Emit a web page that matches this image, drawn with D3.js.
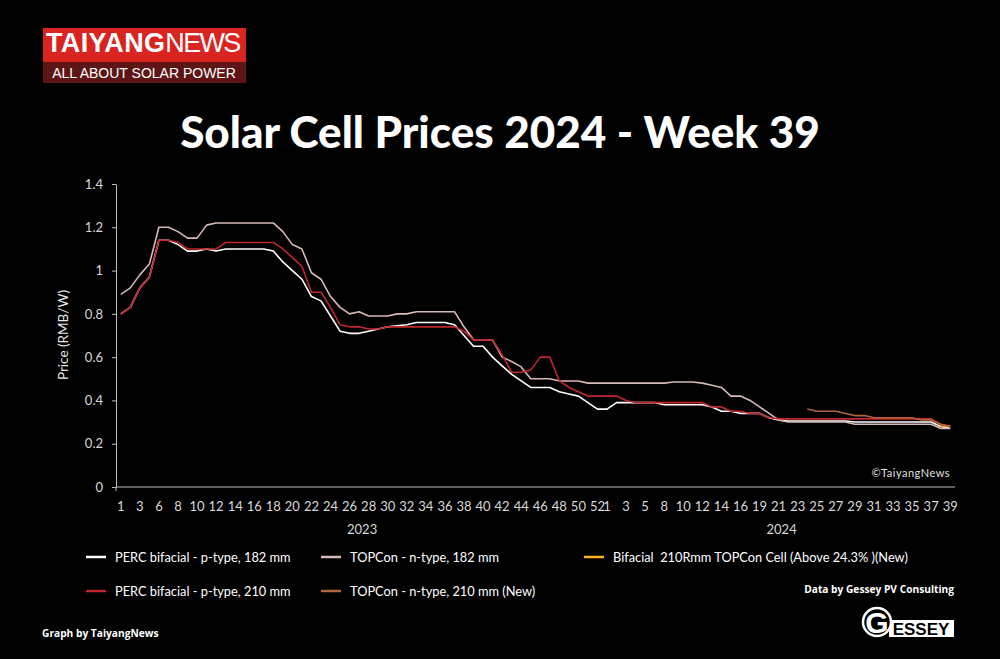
<!DOCTYPE html>
<html><head><meta charset="utf-8">
<script src="https://cdn.jsdelivr.net/npm/d3@7"></script>
<style>html,body{margin:0;padding:0;background:#000;} svg{display:block;}</style>
</head><body>
<svg id="c" width="1000" height="659"></svg>
<script>
// ---------- DATA ----------
const weeks2023 = [1,2,3,5,6,7,8,9,10,11,12,13,14,15,16,17,18,19,20,21,22,23,24,25,26,27,28,29,30,31,32,33,34,35,36,37,38,39,40,41,42,43,44,45,46,47,48,49,50,51,52];
const weeks2024 = [1,2,3,4,5,6,8,9,10,11,12,13,14,15,16,17,19,20,21,22,23,24,25,26,27,28,29,30,31,32,33,34,35,36,37,38,39];
const years = ["2023", "2024"];
const yTicks = [0, 0.2, 0.4, 0.6, 0.8, 1, 1.2, 1.4];

const perc182 = [
  0.80,0.83,0.92,0.97,1.14,1.14,1.12,1.09,1.09,1.10,
  1.09,1.10,1.10,1.10,1.10,1.10,1.09,1.04,1.00,0.96,
  0.88,0.86,0.79,0.72,0.71,0.71,0.72,0.73,0.74,0.745,
  0.75,0.76,0.76,0.76,0.76,0.75,0.70,0.65,0.65,0.60,
  0.56,0.52,0.49,0.46,0.46,0.46,0.44,0.43,0.42,0.39,
  0.36,0.36,0.39,0.39,0.39,0.39,0.39,0.38,0.38,0.38,
  0.38,0.38,0.37,0.35,0.35,0.34,0.34,0.34,0.32,0.31,
  0.305,0.305,0.305,0.305,0.305,0.305,0.305,0.30,0.30,0.30,
  0.30,0.30,0.30,0.30,0.30,0.30,0.28,0.27];
const topcon182 = [
  0.89,0.92,0.98,1.03,1.20,1.20,1.18,1.15,1.15,1.21,
  1.22,1.22,1.22,1.22,1.22,1.22,1.22,1.18,1.12,1.10,
  0.99,0.96,0.88,0.83,0.80,0.81,0.79,0.79,0.79,0.80,
  0.80,0.81,0.81,0.81,0.81,0.81,0.74,0.68,0.68,0.68,
  0.60,0.58,0.555,0.50,0.50,0.50,0.49,0.49,0.49,0.48,
  0.48,0.48,0.48,0.48,0.48,0.48,0.48,0.48,0.485,0.485,
  0.485,0.48,0.47,0.46,0.42,0.42,0.40,0.37,0.34,0.31,
  0.30,0.30,0.30,0.30,0.30,0.30,0.30,0.29,0.29,0.29,
  0.29,0.29,0.29,0.29,0.29,0.29,0.27,0.27];
const perc210 = [
  0.80,0.83,0.92,0.97,1.14,1.14,1.13,1.10,1.10,1.10,
  1.10,1.13,1.13,1.13,1.13,1.13,1.13,1.10,1.06,1.02,
  0.90,0.90,0.83,0.75,0.74,0.74,0.73,0.73,0.74,0.74,
  0.74,0.74,0.74,0.74,0.74,0.74,0.72,0.68,0.68,0.68,
  0.61,0.53,0.53,0.54,0.60,0.60,0.49,0.46,0.44,0.42,
  0.42,0.42,0.42,0.40,0.39,0.39,0.39,0.39,0.39,0.39,
  0.39,0.39,0.37,0.37,0.35,0.35,0.34,0.34,0.32,0.315,
  0.315,0.315,0.315,0.315,0.315,0.315,0.315,0.315,0.315,0.315,
  0.315,0.315,0.315,0.315,0.315,0.315,0.29,0.28];
// New series, 2024 only: first week and values
const topcon210FirstWeek2024 = 24;
const topcon210 = [0.36,0.35,0.35,0.35,0.34,0.33,0.33,0.32,0.32,0.32,0.32,0.32,0.31,0.31,0.29,0.28];
const bifacial210RFirstWeek2024 = 38;
const bifacial210R = [0.28,0.28];

const seriesNames = [
  "PERC bifacial - p-type, 182 mm",
  "TOPCon - n-type, 182 mm",
  "Bifacial  210Rmm TOPCon Cell (Above 24.3% )(New)",
  "PERC bifacial - p-type, 210 mm",
  "TOPCon - n-type, 210 mm (New)"
];
const seriesColors = ["#ffffff", "#d8b9b8", "#ffb21c", "#c1262c", "#b3653a"];

// ---------- BUILD ----------
const cats = [];
weeks2023.forEach((w,i)=>cats.push({week:w, year:years[0], idxInYear:i}));
weeks2024.forEach((w,i)=>cats.push({week:w, year:years[1], idxInYear:i}));
const N = cats.length;
function alignNew(first, vals){
  const start = cats.findIndex(c=>c.year===years[1] && c.week===first);
  return cats.map((c,i)=> (i>=start && i-start<vals.length) ? vals[i-start] : null);
}
const seriesData = [perc182, topcon182, alignNew(bifacial210RFirstWeek2024, bifacial210R), perc210, alignNew(topcon210FirstWeek2024, topcon210)];

const svg = d3.select("#c");
svg.append("rect").attr("width",1000).attr("height",659).attr("fill","#000");

// ---------- LOGO ----------
const logo = svg.append("g");
logo.append("rect").attr("x",43).attr("y",28).attr("width",203).attr("height",34).attr("fill","#d9241f");
logo.append("rect").attr("x",43).attr("y",62).attr("width",203).attr("height",21).attr("fill","#5e1515");
const lt = logo.append("text").attr("x",46).attr("y",52).attr("fill","#fff")
  .style("font-family","Liberation Sans, Arial, sans-serif").style("font-size","27px");
lt.append("tspan").attr("font-weight","bold").attr("textLength",119).text("TAIYANG");
lt.append("tspan").attr("font-weight","normal").attr("textLength",76).text("NEWS");
logo.append("text").attr("x",144).attr("y",77.5).attr("text-anchor","middle").attr("fill","#fff")
  .style("font-family","Liberation Sans, Arial, sans-serif").style("font-size","14px")
  .text("ALL ABOUT SOLAR POWER");

// ---------- TITLE ----------
const title = svg.append("text").attr("x",500).attr("y",148).attr("text-anchor","middle").attr("fill","#fff")
  .style("font-family","Lato, 'Open Sans', sans-serif").style("font-weight","900").style("font-size","42px")
  .text("Solar Cell Prices 2024 - Week 39");
const tw = title.node().getComputedTextLength();
title.style("font-size", (42*640/tw).toFixed(1)+"px");

// ---------- SCALES ----------
const x = d3.scalePoint().domain(d3.range(N)).range([116,955]).padding(0.5);
const y = d3.scaleLinear().domain([0,1.4]).range([487,184]);

const axisFont = "Lato, 'Open Sans', sans-serif";
// y axis
const ya = svg.append("g").attr("transform","translate(116,0)")
  .call(d3.axisLeft(y).tickValues(yTicks).tickSize(4).tickSizeOuter(0).tickPadding(9).tickFormat(d=>String(d)));
ya.select(".domain").attr("stroke","#bfbfbf");
ya.selectAll(".tick line").attr("stroke","#bfbfbf");
ya.selectAll(".tick text").attr("fill","#d9d9d9").style("font-family",axisFont).style("font-size","13px");

// x axis line
svg.append("line").attr("x1",116).attr("x2",955).attr("y1",y(0)).attr("y2",y(0)).attr("stroke","#bfbfbf");
svg.append("line").attr("x1",116).attr("x2",116).attr("y1",y(0)).attr("y2",y(0)+4).attr("stroke","#bfbfbf");
// category labels (every other within each year)
svg.append("g").selectAll("text").data(cats.map((c,i)=>({c,i})).filter(d=>d.c.idxInYear%2===0))
  .join("text").attr("x",d=>x(d.i)).attr("y",511).attr("text-anchor","middle").attr("fill","#d9d9d9")
  .style("font-family",axisFont).style("font-size","13px").text(d=>d.c.week);
// year labels
years.forEach(yr=>{
  const idx = cats.map((c,i)=>c.year===yr?i:-1).filter(i=>i>=0);
  svg.append("text").attr("x",(x(idx[0])+x(idx[idx.length-1]))/2+3).attr("y",534).attr("text-anchor","middle")
    .attr("fill","#d9d9d9").style("font-family",axisFont).style("font-size","13px").text(yr);
});
// y label
svg.append("text").attr("transform","translate(68,335) rotate(-90)").attr("text-anchor","middle").attr("fill","#e6e6e6")
  .style("font-family",axisFont).style("font-size","13.5px").text("Price (RMB/W)");

// ---------- LINES ----------
const line = d3.line().defined(d=>d.v!=null).x(d=>x(d.i)).y(d=>y(d.v));
seriesData.forEach((s,k)=>{
  svg.append("path").datum(s.map((v,i)=>({v,i})))
    .attr("d",line).attr("fill","none").attr("stroke",seriesColors[k]).attr("stroke-width",1.6)
    .attr("stroke-linejoin","round");
});

// watermark
svg.append("text").attr("x",950).attr("y",477).attr("text-anchor","end").attr("fill","#e0e0e0")
  .style("font-family",axisFont).style("font-size","11px").style("letter-spacing","0.5px").text("©TaiyangNews");

// ---------- LEGEND ----------
const legendPos = [[86,557],[321,557],[584,557],[86,591],[321,591]];
seriesNames.forEach((n,k)=>{
  const [lx,ly] = legendPos[k];
  svg.append("line").attr("x1",lx).attr("x2",lx+20).attr("y1",ly).attr("y2",ly).attr("stroke",seriesColors[k]).attr("stroke-width",2.5);
  svg.append("text").attr("x",lx+29).attr("y",ly+4.5).attr("fill","#fff").attr("xml:space","preserve")
    .style("font-family",axisFont).style("font-size","12.8px").style("white-space","pre").text(n);
});

// ---------- FOOTER ----------
svg.append("text").attr("x",42).attr("y",637).attr("fill","#fff")
  .style("font-family","'Open Sans', Lato, sans-serif").style("font-weight","bold").style("font-size","10.2px").text("Graph by TaiyangNews");
svg.append("text").attr("x",954).attr("y",593).attr("text-anchor","end").attr("fill","#fff")
  .style("font-family","'Open Sans', Lato, sans-serif").style("font-weight","bold").style("font-size","10.2px").text("Data by Gessey PV Consulting");

// GESSEY logo
const g = svg.append("g");
g.append("rect").attr("x",889).attr("y",620).attr("width",65).attr("height",17).attr("fill","#fff");
g.append("text").attr("x",921).attr("y",635).attr("text-anchor","middle").attr("fill","#000")
  .style("font-family","Liberation Sans, Arial, sans-serif").style("font-weight","bold").style("font-size","17px").text("ESSEY");
g.append("circle").attr("cx",877).attr("cy",622).attr("r",14).attr("fill","#000").attr("stroke","#fff").attr("stroke-width",2.5);
g.append("text").attr("x",877).attr("y",633).attr("text-anchor","middle").attr("fill","#fff")
  .style("font-family","Liberation Sans, Arial, sans-serif").style("font-weight","bold").style("font-size","30px").text("G");
</script>
</body></html>
